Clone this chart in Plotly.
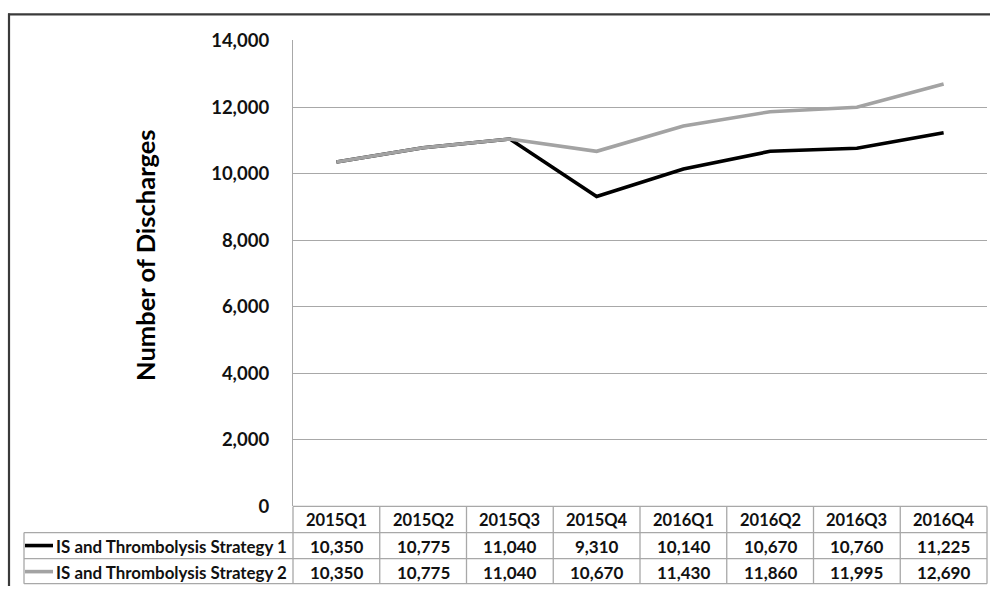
import plotly.graph_objects as go

categories = ["2015Q1", "2015Q2", "2015Q3", "2015Q4", "2016Q1", "2016Q2", "2016Q3", "2016Q4"]
series_names = ["IS and Thrombolysis Strategy 1", "IS and Thrombolysis Strategy 2"]
strategy1 = [10350, 10775, 11040, 9310, 10140, 10670, 10760, 11225]
strategy2 = [10350, 10775, 11040, 10670, 11430, 11860, 11995, 12690]
series_values = [strategy1, strategy2]
series_colors = ["#000000", "#a3a3a3"]
y_ticks = [0, 2000, 4000, 6000, 8000, 10000, 12000, 14000]

W, H = 990, 596
FONT = "Lato"
GRID = "#a8a8a8"
TXT = "#111111"

# target pixel layout (as seen in the final picture)
PX_L, PX_R = 293, 987
PY_T, PY_B = 40, 505
ROW_H = 26
TABLE_L = 24

# vertical correction for the capture (figure appears slightly squeezed vertically)
V_SCALE, V_OFF = 0.961, 11.6


def px(x):
    return x / W


def py(y):
    yy = (y - V_OFF) / V_SCALE
    return min(1.0, max(0.0, 1 - yy / H))


fig = go.Figure()
# Strategy 1 first so that Strategy 2 sits on top where they overlap
for name, vals, col in zip(series_names, series_values, series_colors):
    fig.add_trace(go.Scatter(
        x=categories, y=vals, mode="lines", name=name,
        line=dict(color=col, width=3.6), showlegend=False,
    ))

shapes = []
annotations = []

# table horizontal lines
row_tops = [PY_B, PY_B + ROW_H, PY_B + 2 * ROW_H, PY_B + 3 * ROW_H - 1]
shapes.append(dict(type="line", xref="paper", yref="paper",
                   x0=px(PX_L), x1=px(PX_R), y0=py(row_tops[0]), y1=py(row_tops[0]),
                   line=dict(color=GRID, width=1.3)))
for yy in row_tops[1:]:
    shapes.append(dict(type="line", xref="paper", yref="paper",
                       x0=px(TABLE_L), x1=px(PX_R), y0=py(yy), y1=py(yy),
                       line=dict(color=GRID, width=1.3)))
# vertical lines
n = len(categories)
colw = (PX_R - PX_L) / n
for i in range(n + 1):
    xx = PX_L + i * colw
    shapes.append(dict(type="line", xref="paper", yref="paper",
                       x0=px(xx), x1=px(xx), y0=py(row_tops[0]), y1=py(row_tops[3]),
                       line=dict(color=GRID, width=1.3)))
shapes.append(dict(type="line", xref="paper", yref="paper",
                   x0=px(TABLE_L), x1=px(TABLE_L), y0=py(row_tops[1]), y1=py(row_tops[3]),
                   line=dict(color=GRID, width=1.3)))
# outer chart border (left and top visible)
shapes.append(dict(type="line", xref="paper", yref="paper",
                   x0=px(9), x1=px(9), y0=py(13), y1=0,
                   line=dict(color="#3a3a3a", width=2.2)))
shapes.append(dict(type="line", xref="paper", yref="paper",
                   x0=px(8), x1=1, y0=py(14), y1=py(14),
                   line=dict(color="#3a3a3a", width=2.2)))

# header labels
for i, c in enumerate(categories):
    cx = PX_L + (i + 0.5) * colw
    annotations.append(dict(x=px(cx), y=py(PY_B + 13.5), xref="paper", yref="paper",
                            text=c, showarrow=False, xanchor="center", yanchor="middle",
                            font=dict(family=FONT, size=16.5, color=TXT, weight="bold")))
# data rows
for r, (name, vals, col) in enumerate(zip(series_names, series_values, series_colors)):
    cy = PY_B + ROW_H * (r + 1) + ROW_H / 2
    shapes.append(dict(type="line", xref="paper", yref="paper",
                       x0=px(25), x1=px(53), y0=py(cy), y1=py(cy),
                       line=dict(color=col, width=3.6)))
    annotations.append(dict(x=px(289), y=py(cy + 0.5), xref="paper", yref="paper",
                            text=name, showarrow=False, xanchor="right", yanchor="middle",
                            font=dict(family=FONT, size=16.9, color=TXT, weight="bold")))
    for i, v in enumerate(vals):
        cx = PX_L + (i + 0.5) * colw
        annotations.append(dict(x=px(cx), y=py(cy + 0.5), xref="paper", yref="paper",
                                text=f"{v:,}", showarrow=False, xanchor="center", yanchor="middle",
                                font=dict(family=FONT, size=17, color=TXT, weight="bold")))

# y axis title
annotations.append(dict(x=px(145), y=py(254), xref="paper", yref="paper",
                        text="Number of Discharges", showarrow=False, textangle=-90,
                        xanchor="center", yanchor="middle",
                        font=dict(family=FONT, size=25.5, color="#000000", weight="bold")))

fig.update_layout(
    width=W, height=H,
    margin=dict(l=0, r=0, t=0, b=0),
    paper_bgcolor="white", plot_bgcolor="white",
    shapes=shapes, annotations=annotations,
    xaxis=dict(domain=[px(PX_L), px(PX_R)], range=[-0.5, n - 0.5],
               showticklabels=False, showgrid=False, zeroline=False, showline=False,
               fixedrange=True),
    yaxis=dict(domain=[py(PY_B), py(PY_T)], range=[0, 14000],
               tickvals=y_ticks, ticktext=[f"{t:,}" for t in y_ticks],
               tickfont=dict(family=FONT, size=18.5, color=TXT, weight="bold"),
               showgrid=True, gridcolor=GRID, gridwidth=1.3,
               zeroline=False, showline=True, linecolor=GRID, linewidth=1.3,
               ticks="", ticklabelstandoff=19, fixedrange=True),
)

fig.write_html("out.html")
